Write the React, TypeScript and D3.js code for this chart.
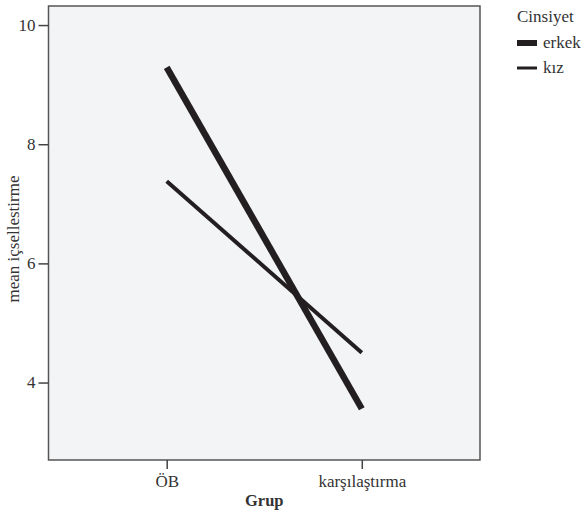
import { useRef, useEffect } from "react";
import * as d3 from "d3";

const groups = ["ÖB", "karşılaştırma"];
const erkek = [9.29, 3.56];
const kiz = [7.38, 4.5];
const yTicks = [4, 6, 8, 10];
const seriesNames = ["erkek", "kız"];

const W = 586;
const H = 515;
const frame = { left: 48.5, right: 480, top: 6, bottom: 460 };
const FONT = "'Liberation Serif', 'Times New Roman', serif";
const INK = "#231f20";

function App() {
  const svgRef = useRef<SVGSVGElement>(null);

  useEffect(() => {
    const svg = d3.select(svgRef.current);
    svg.selectAll("*").remove();

    const x = d3
      .scalePoint<string>()
      .domain(groups)
      .range([frame.left, frame.right])
      .padding(0.606);

    const y = d3
      .scaleLinear()
      .domain([2.7, 10.32])
      .range([frame.bottom, frame.top]);

    // plot background + frame
    svg
      .append("rect")
      .attr("x", frame.left)
      .attr("y", frame.top)
      .attr("width", frame.right - frame.left)
      .attr("height", frame.bottom - frame.top)
      .attr("fill", "#f3f4f6")
      .attr("stroke", "#555")
      .attr("stroke-width", 1.5);

    // y axis
    const yAxis = d3
      .axisLeft(y)
      .tickValues(yTicks)
      .tickSize(10)
      .tickPadding(3)
      .tickFormat(d3.format("d"));
    const gy = svg
      .append("g")
      .attr("transform", `translate(${frame.left},0)`)
      .call(yAxis);
    gy.select(".domain").remove();
    gy.selectAll("line").attr("stroke", "#444").attr("stroke-width", 1.5);
    gy.selectAll("text")
      .attr("font-family", FONT)
      .attr("font-size", 17)
      .attr("fill", "#333");

    // x axis
    const xAxis = d3.axisBottom(x).tickSize(9).tickPadding(6);
    const gx = svg
      .append("g")
      .attr("transform", `translate(0,${frame.bottom})`)
      .call(xAxis);
    gx.select(".domain").remove();
    gx.selectAll("line").attr("stroke", "#444").attr("stroke-width", 1.5);
    gx.selectAll("text")
      .attr("font-family", FONT)
      .attr("font-size", 17)
      .attr("fill", "#333");

    // axis titles
    svg
      .append("text")
      .attr("x", (frame.left + frame.right) / 2)
      .attr("y", 506)
      .attr("text-anchor", "middle")
      .attr("font-family", FONT)
      .attr("font-size", 16.5)
      .attr("font-weight", "bold")
      .attr("fill", "#333")
      .text("Grup");

    svg
      .append("text")
      .attr("transform", `translate(19,239) rotate(-90)`)
      .attr("text-anchor", "middle")
      .attr("font-family", FONT)
      .attr("font-size", 17)
      .attr("fill", "#333")
      .text("mean içsellestirme");

    // lines
    const lineGen = d3
      .line<number>()
      .x((_, i) => x(groups[i]) as number)
      .y((v) => y(v));

    const series = [
      { name: "erkek", values: erkek, width: 6.5 },
      { name: "kız", values: kiz, width: 4 },
    ];

    svg
      .selectAll(".series")
      .data(series)
      .join("path")
      .attr("class", "series")
      .attr("d", (d) => lineGen(d.values))
      .attr("fill", "none")
      .attr("stroke", INK)
      .attr("stroke-width", (d) => d.width);

    // legend
    const lg = svg.append("g").attr("transform", "translate(517,0)");
    lg.append("text")
      .attr("x", 0)
      .attr("y", 22)
      .attr("font-family", FONT)
      .attr("font-size", 17)
      .attr("fill", "#333")
      .text("Cinsiyet");

    const items = lg
      .selectAll(".item")
      .data(series)
      .join("g")
      .attr("class", "item")
      .attr("transform", (_, i) => `translate(0,${43 + i * 25})`);
    items
      .append("line")
      .attr("x1", 0)
      .attr("x2", 20)
      .attr("stroke", INK)
      .attr("stroke-width", (d) => (d.width > 5 ? 6 : 3));
    items
      .append("text")
      .attr("x", 26)
      .attr("y", 5)
      .attr("font-family", FONT)
      .attr("font-size", 17)
      .attr("fill", "#333")
      .text((_, i) => seriesNames[i]);
  }, []);

  return (
    <div style={{ position: "absolute", left: 0, top: 0 }}>
      <svg ref={svgRef} width={W} height={H} style={{ display: "block" }} />
    </div>
  );
}

export default App;
